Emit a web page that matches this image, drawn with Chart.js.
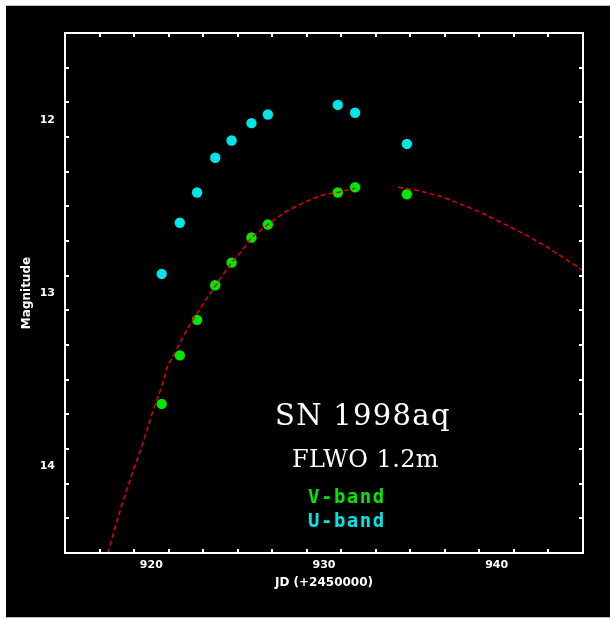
<!DOCTYPE html>
<html>
<head>
<meta charset="utf-8">
<script src="https://cdn.jsdelivr.net/npm/chart.js@4.4.1/dist/chart.umd.min.js"></script>
<style>
  html, body { margin: 0; padding: 0; background: #fff; }
  #panel { position: absolute; left: 6px; top: 5px; width: 604px; height: 611px;
           background: #000; border-top: 1px solid #bdbdbd; border-bottom: 1px solid #bdbdbd; }
  #c { position: absolute; left: 0; top: 0; }
</style>
</head>
<body>
<div id="panel"></div>
<canvas id="c" width="610" height="619"></canvas>
<script>
// Photometry of SN 1998aq, dates in JD - 2450000
const days  = [920.6, 921.65, 922.65, 923.7, 924.65, 925.8, 926.75, 930.8, 931.8, 934.8];
const vBand = [13.64, 13.36, 13.155, 12.955, 12.825, 12.68, 12.605, 12.42, 12.39, 12.43];
const uBand = [12.89, 12.595, 12.42, 12.22, 12.12, 12.02, 11.97, 11.915, 11.96, 12.14];

// V-band template fit, drawn in two pieces (null breaks the line)
const fitDays = [917.2, 917.8, 918.3, 918.9, 919.5, 920.0, 920.6, 920.95, 921.4, 921.9,
                 922.5, 923.1, 923.7, 924.6, 925.3, 925.8, 926.75, 927.8, 928.6, 929.35,
                 930.1, 930.8, 931.8, 933.0, 934.3, 935.5, 936.7, 938.0, 939.2, 940.3,
                 941.7, 943.0, 944.0, 945.0];
const fitMag  = [14.59, 14.39, 14.22, 14.04, 13.87, 13.71, 13.54, 13.42, 13.34, 13.24,
                 13.14, 13.05, 12.96, 12.83, 12.75, 12.68, 12.605, 12.53, 12.49, 12.455,
                 12.43, 12.42, 12.395, null, 12.39, 12.41, 12.44, 12.49, 12.54, 12.595,
                 12.665, 12.74, 12.805, 12.87];

const xTickValues = [920, 930, 940];
const yTickValues = [12, 13, 14];
const xMinorStep = 2;
const yMinorStep = 0.2;

const GREEN = '#00e800';
const CYAN  = '#00e6e6';
const WHITE = '#ffffff';

const pts = (xs, ys) => xs.map((x, i) => ({ x: x, y: ys[i] }));

// Boxed frame with inward ticks on all four sides
const framePlugin = {
  id: 'frame',
  afterDraw(chart) {
    const { ctx, chartArea: a, scales: { x, y } } = chart;
    ctx.save();
    ctx.strokeStyle = WHITE;
    ctx.lineWidth = 2;
    ctx.strokeRect(a.left, a.top, a.right - a.left, a.bottom - a.top);
    ctx.lineWidth = 2;
    const majorLen = 8, minorLen = 4;
    const near = (v, list) => list.some(t => Math.abs(t - v) < 1e-6);
    for (let v = x.min; v <= x.max + 1e-9; v += xMinorStep) {
      const px = Math.round(x.getPixelForValue(v));
      const len = near(v, xTickValues) ? majorLen : minorLen;
      ctx.beginPath();
      ctx.moveTo(px, a.bottom); ctx.lineTo(px, a.bottom - len);
      ctx.moveTo(px, a.top);    ctx.lineTo(px, a.top + len);
      ctx.stroke();
    }
    for (let k = 0; k * yMinorStep <= (y.max - y.min) + 1e-9; k++) {
      const v = +(y.min + k * yMinorStep).toFixed(4);
      const py = Math.round(y.getPixelForValue(v));
      const len = near(v, yTickValues) ? majorLen : minorLen;
      ctx.beginPath();
      ctx.moveTo(a.left, py);  ctx.lineTo(a.left + len, py);
      ctx.moveTo(a.right, py); ctx.lineTo(a.right - len, py);
      ctx.stroke();
    }
    ctx.restore();
  }
};

// Object name, telescope and band key inside the plot
const notesPlugin = {
  id: 'notes',
  afterDraw(chart) {
    const ctx = chart.ctx;
    ctx.save();
    ctx.textAlign = 'left';
    ctx.textBaseline = 'alphabetic';
    ctx.fillStyle = WHITE;
    ctx.font = '29px "DejaVu Serif"';
    ctx.letterSpacing = '1.3px';
    ctx.fillText('SN 1998aq', 275, 425);
    ctx.font = '24px "DejaVu Serif"';
    ctx.letterSpacing = '0.4px';
    ctx.fillText('FLWO 1.2m', 292, 467);
    ctx.font = 'bold 19px "DejaVu Sans Mono"';
    ctx.letterSpacing = '1.5px';
    ctx.fillStyle = GREEN;
    ctx.fillText('V-band', 308, 503);
    ctx.fillStyle = CYAN;
    ctx.fillText('U-band', 308, 527);
    ctx.restore();
  }
};

const tickFont  = { family: 'DejaVu Sans', weight: 'bold', size: 11 };
const titleFont = { family: 'DejaVu Sans', weight: 'bold', size: 12 };

new Chart(document.getElementById('c'), {
  type: 'scatter',
  data: {
    datasets: [
      {
        label: 'fit',
        type: 'line',
        data: pts(fitDays, fitMag),
        borderColor: '#e60000',
        borderWidth: 1.5,
        borderDash: [5, 3],
        pointRadius: 0,
        fill: false,
        tension: 0,
        spanGaps: false,
        showLine: true
      },
      {
        label: 'V-band',
        data: pts(days, vBand),
        backgroundColor: GREEN,
        borderColor: GREEN,
        pointRadius: 5.2,
        borderWidth: 0
      },
      {
        label: 'U-band',
        data: pts(days, uBand),
        backgroundColor: CYAN,
        borderColor: CYAN,
        pointRadius: 5.2,
        borderWidth: 0
      }
    ]
  },
  options: {
    responsive: false,
    animation: false,
    devicePixelRatio: 1,
    layout: { padding: { left: 0, top: 33, right: 27, bottom: 0 } },
    plugins: { legend: { display: false }, tooltip: { enabled: false } },
    scales: {
      x: {
        type: 'linear',
        position: 'bottom',
        min: 915,
        max: 945,
        afterBuildTicks: s => { s.ticks = xTickValues.map(v => ({ value: v })); },
        afterFit: s => { s.height = 66; },
        grid: { display: false, drawTicks: false },
        border: { display: false },
        ticks: { color: WHITE, font: tickFont, padding: 6, maxRotation: 0, autoSkip: false },
        title: { display: true, text: 'JD (+2450000)', color: WHITE, font: titleFont,
                 padding: { top: 0, bottom: 29 } }
      },
      y: {
        type: 'linear',
        position: 'left',
        reverse: true,
        min: 11.5,
        max: 14.5,
        afterBuildTicks: s => { s.ticks = yTickValues.map(v => ({ value: v })); },
        afterFit: s => { s.width = 65; },
        grid: { display: false, drawTicks: false },
        border: { display: false },
        ticks: { color: WHITE, font: tickFont, padding: 10, autoSkip: false },
        title: { display: true, text: 'Magnitude', color: WHITE, font: titleFont,
                 padding: { top: 20, bottom: 0 } }
      }
    }
  },
  plugins: [framePlugin, notesPlugin]
});
</script>
</body>
</html>
